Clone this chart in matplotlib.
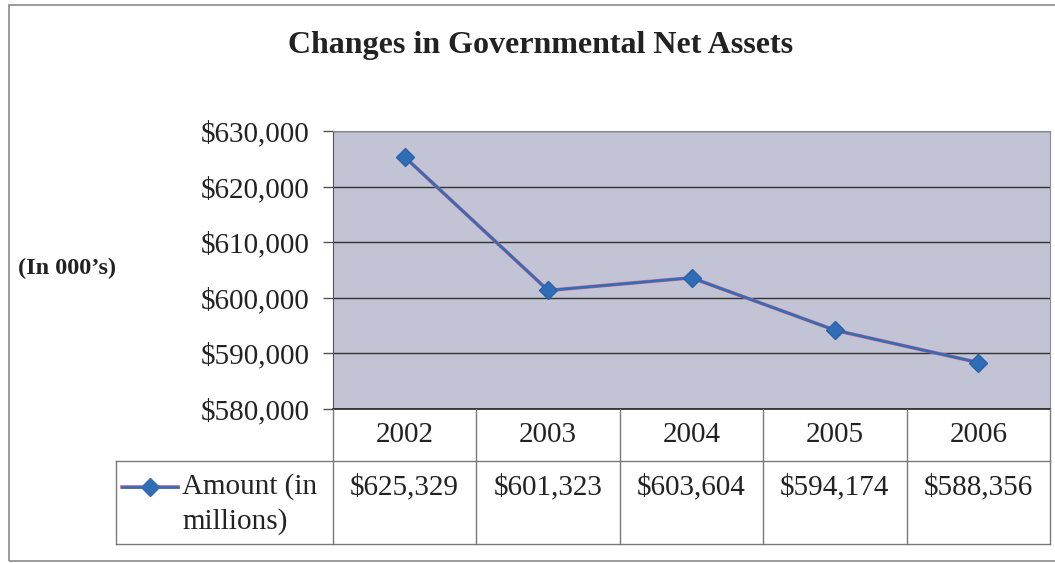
import matplotlib.pyplot as plt
import matplotlib.patches as mpatches
from matplotlib.lines import Line2D
from matplotlib.ticker import FuncFormatter

# Datos del gráfico
years = ["2002", "2003", "2004", "2005", "2006"]
amounts = [625329, 601323, 603604, 594174, 588356]
y_ticks = [580000, 590000, 600000, 610000, 620000, 630000]

W, H = 1055, 563
plt.rcParams['font.family'] = ['Liberation Serif', 'DejaVu Serif']

fig = plt.figure(figsize=(W / 100, H / 100), dpi=100)
fig.patch.set_facecolor('white')

def px_axes(x0, y0, x1, y1):
    # caja en píxeles (origen arriba a la izquierda) -> fracción de figura
    return [x0 / W, 1 - y1 / H, (x1 - x0) / W, (y1 - y0) / H]

# Borde exterior del gráfico
fig.add_artist(mpatches.Rectangle((9 / W, 1 - 561 / H), (1060 - 9) / W, (561 - 5) / H,
                                  transform=fig.transFigure, fill=False,
                                  edgecolor='#8a8a8a', linewidth=1.2))

# Área del gráfico
ax = fig.add_axes(px_axes(333, 131, 1050, 409))
ax.set_facecolor('#c2c3d4')
ax.plot(range(len(years)), amounts, color='#c06090', linewidth=2.6, zorder=3)
ax.plot(range(len(years)), amounts, color='#2f6db6', linewidth=1.8, marker='D',
        markersize=9, markerfacecolor='#2f6db6', markeredgecolor='#2a62a8', zorder=4)
ax.set_xlim(-0.5, len(years) - 0.5)
ax.set_ylim(y_ticks[0], y_ticks[-1])
ax.set_yticks(y_ticks)
ax.yaxis.set_major_formatter(FuncFormatter(lambda v, p: f"${v:,.0f}"))
ax.tick_params(axis='y', labelsize=21, length=7, width=1, color='#555555',
               pad=10, labelcolor='#222222')
ax.set_xticks([])
ax.grid(axis='y', color='#333333', linewidth=1)
ax.set_axisbelow(True)
for side in ['top', 'right']:
    ax.spines[side].set_color('#8a8a8a')
ax.spines['left'].set_color('#555555')
ax.spines['bottom'].set_color('#222222')
ax.spines['bottom'].set_linewidth(1.2)

# Tabla de datos
tax = fig.add_axes(px_axes(333, 409, 1050, 544))
tax.set_xlim(-0.5, len(years) - 0.5)
tax.set_ylim(0, 135)
tax.axis('off')
split = 83  # frontera entre fila de años y fila de valores
lc = '#7a7a7a'
legend_left = -0.5 - (333 - 116) / ((1050 - 333) / len(years))
tax.plot([legend_left, len(years) - 0.5], [split, split], color=lc, lw=1, clip_on=False)
tax.plot([legend_left, len(years) - 0.5], [0, 0], color=lc, lw=1, clip_on=False)
tax.plot([legend_left, legend_left], [0, split], color=lc, lw=1, clip_on=False)
for i in range(len(years) + 1):
    tax.plot([i - 0.5, i - 0.5], [0, 135], color=lc, lw=1, clip_on=False)

row_y = split - 26
for i, (yr, val) in enumerate(zip(years, amounts)):
    tax.text(i, (split + 135) / 2, yr, ha='center', va='center', fontsize=21, color='#222222')
    tax.text(i, row_y, f"${val:,.0f}", ha='center', va='center',
             fontsize=21, color='#222222')

# Leyenda dentro de la tabla
lx0 = legend_left + 0.04
lx1 = legend_left + 0.43
tax.add_line(Line2D([lx0, lx1], [row_y, row_y], color='#c06090', lw=2.6, clip_on=False))
tax.add_line(Line2D([lx0, lx1], [row_y, row_y], color='#2f6db6', lw=1.8, clip_on=False))
tax.plot([(lx0 + lx1) / 2], [row_y], marker='D', markersize=9, color='#2f6db6',
         clip_on=False)
tax.text(lx1 + 0.03, row_y, "Amount (in", ha='left', va='center',
         fontsize=21, color='#222222')
tax.text(lx1 + 0.03, row_y - 35, "millions)", ha='left', va='center',
         fontsize=21, color='#222222')

# Títulos
fig.text(541 / W, 1 - 45 / H, "Changes in Governmental Net Assets", ha='center',
         va='center', fontsize=23, fontweight='bold', color='#222222')
fig.text(18 / W, 1 - 268 / H, "(In 000\u2019s)", ha='left', va='center',
         fontsize=17.5, fontweight='bold', color='#222222')

fig.savefig('out.png', dpi=100)
